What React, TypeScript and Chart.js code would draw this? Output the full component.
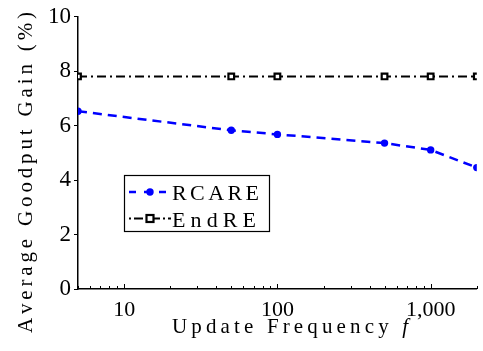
import React, { useEffect, useRef } from "react";
import { Chart, registerables } from "chart.js";

Chart.register(...registerables);

// Update frequency f (log axis) and average goodput gain (%)
const frequencies = [5, 50, 100, 500, 1000, 2000];
const rcareGain = [6.53, 5.83, 5.68, 5.36, 5.11, 4.46];
const endreGain = [7.81, 7.81, 7.81, 7.81, 7.81, 7.81];
const xTickLabels: Record<number, string> = { 10: "10", 100: "100", 1000: "1,000" };
const yTicks = [0, 2, 4, 6, 8, 10];

const FONT = '"Liberation Serif"';
const BLUE = "#0000ff";

// glyph-by-glyph text, spread so that the run covers a given width
type Run = { text: string; font: string };
function fillTracked(ctx: CanvasRenderingContext2D, runs: Run[], x: number, y: number, width: number) {
  const glyphs: { ch: string; font: string; w: number }[] = [];
  runs.forEach((r) => {
    ctx.font = r.font;
    for (const ch of r.text) glyphs.push({ ch, font: r.font, w: ctx.measureText(ch).width });
  });
  const natural = glyphs.reduce((s, g) => s + g.w, 0);
  const gap = glyphs.length > 1 ? Math.max(0, (width - natural) / (glyphs.length - 1)) : 0;
  let cx = x;
  glyphs.forEach((g) => {
    ctx.font = g.font;
    ctx.fillText(g.ch, cx, y);
    cx += g.w + gap;
  });
}

const decor = {
  id: "decor",
  afterDraw(chart: any) {
    const { ctx, chartArea, scales } = chart;
    const xs = scales.x;
    ctx.save();
    // inward minor/major ticks along the log x axis
    ctx.strokeStyle = "#000";
    ctx.lineWidth = 1;
    for (let d = 1; d <= 1000; d *= 10) {
      for (let m = 1; m <= 9; m++) {
        const v = d * m;
        if (v < 5 || v > 2000) continue;
        const px = Math.round(xs.getPixelForValue(v)) + 0.5;
        const len = m === 1 ? 5 : 3;
        ctx.beginPath();
        ctx.moveTo(px, chartArea.bottom);
        ctx.lineTo(px, chartArea.bottom - len);
        ctx.stroke();
      }
    }

    // axis titles
    ctx.fillStyle = "#000";
    ctx.textBaseline = "alphabetic";
    ctx.textAlign = "left";
    fillTracked(
      ctx,
      [
        { text: "Update Frequency ", font: `21px ${FONT}` },
        { text: "f", font: `italic 21px ${FONT}` },
      ],
      172,
      333,
      236
    );

    ctx.save();
    ctx.translate(32, 333);
    ctx.rotate(-Math.PI / 2);
    fillTracked(ctx, [{ text: "Average Goodput Gain (%)", font: `21px ${FONT}` }], 0, 0, 321);
    ctx.restore();

    // legend box
    const bx = 124.5, by = 175.5, bw = 145, bh = 56;
    ctx.fillStyle = "#fff";
    ctx.fillRect(bx, by, bw, bh);
    ctx.strokeStyle = "#000";
    ctx.lineWidth = 1.2;
    ctx.strokeRect(bx, by, bw, bh);

    const rows = [
      { label: "RCARE", y: 192, base: 200, w: 87, color: BLUE, dash: [7, 8], width: 2.5, marker: "circle" },
      { label: "EndRE", y: 218.5, base: 226.5, w: 84, color: "#000", dash: [2, 3, 9, 3], width: 2, marker: "square" },
    ];
    rows.forEach((r) => {
      ctx.save();
      ctx.strokeStyle = r.color;
      ctx.lineWidth = r.width;
      ctx.setLineDash(r.dash);
      ctx.beginPath();
      ctx.moveTo(129, r.y);
      ctx.lineTo(171, r.y);
      ctx.stroke();
      ctx.setLineDash([]);
      if (r.marker === "circle") {
        ctx.fillStyle = BLUE;
        ctx.beginPath();
        ctx.arc(150, r.y, 3.7, 0, Math.PI * 2);
        ctx.fill();
      } else {
        ctx.fillStyle = "#fff";
        ctx.fillRect(146.5, r.y - 3.5, 7, 7);
        ctx.strokeStyle = "#000";
        ctx.lineWidth = 2.2;
        ctx.strokeRect(146.5, r.y - 3.5, 7, 7);
      }
      ctx.fillStyle = "#000";
      ctx.textAlign = "left";
      ctx.textBaseline = "alphabetic";
      fillTracked(ctx, [{ text: r.label, font: `22px ${FONT}` }], 172, r.base, r.w);
      ctx.restore();
    });
    ctx.restore();
  },
};

export default function App() {
  const ref = useRef<HTMLCanvasElement>(null);

  useEffect(() => {
    if (!ref.current) return;
    const chart = new Chart(ref.current, {
      type: "line",
      data: {
        datasets: [
          {
            label: "RCARE",
            data: frequencies.map((f, i) => ({ x: f, y: rcareGain[i] })),
            borderColor: BLUE,
            backgroundColor: BLUE,
            borderWidth: 2.5,
            borderDash: [9, 6],
            pointStyle: "circle",
            pointRadius: 3.7,
            pointBorderWidth: 0,
            pointBackgroundColor: BLUE,
            tension: 0,
          },
          {
            label: "EndRE",
            data: frequencies.map((f, i) => ({ x: f, y: endreGain[i] })),
            borderColor: "#000",
            borderWidth: 2,
            borderDash: [9, 4, 2, 4],
            pointStyle: "rect",
            pointRadius: 4,
            pointBorderWidth: 2.2,
            pointBorderColor: "#000",
            pointBackgroundColor: "#fff",
            tension: 0,
          },
        ],
      },
      options: {
        animation: false,
        responsive: false,
        maintainAspectRatio: false,
        layout: { padding: { top: 15, right: 5, left: 0, bottom: 0 } },
        plugins: {
          legend: { display: false },
          tooltip: { enabled: false },
          title: { display: false },
        },
        elements: { point: { hitRadius: 0 } },
        scales: {
          x: {
            type: "logarithmic",
            min: 5,
            max: 2000,
            grid: { display: false },
            border: { display: true, color: "#000", width: 1.5 },
            afterFit: (s: any) => {
              s.height = 62;
            },
            afterBuildTicks: (s: any) => {
              s.ticks = Object.keys(xTickLabels).map((k) => ({ value: Number(k) }));
            },
            ticks: {
              autoSkip: false,
              maxRotation: 0,
              color: "#000",
              padding: 0,
              font: { family: FONT, size: 22 },
              callback: (v: any) => xTickLabels[Number(v)] ?? "",
            },
          },
          y: {
            min: 0,
            max: 10,
            afterFit: (s: any) => {
              s.width = 78;
            },
            afterBuildTicks: (s: any) => {
              s.ticks = yTicks.map((v) => ({ value: v }));
            },
            grid: {
              display: true,
              drawOnChartArea: false,
              drawTicks: true,
              tickLength: 4,
              color: "#000",
              lineWidth: 1,
            },
            border: { display: true, color: "#000", width: 1.5 },
            ticks: {
              color: "#000",
              padding: 3,
              font: { family: FONT, size: 23 },
              callback: (v: any) => String(v),
            },
          },
        },
      },
      plugins: [decor],
    });
    return () => chart.destroy();
  }, []);

  return (
    <div style={{ position: "fixed", left: 0, top: 0, width: 483, height: 351, background: "#fff" }}>
      <canvas ref={ref} width={483} height={351} style={{ width: 483, height: 351, display: "block" }} />
    </div>
  );
}
